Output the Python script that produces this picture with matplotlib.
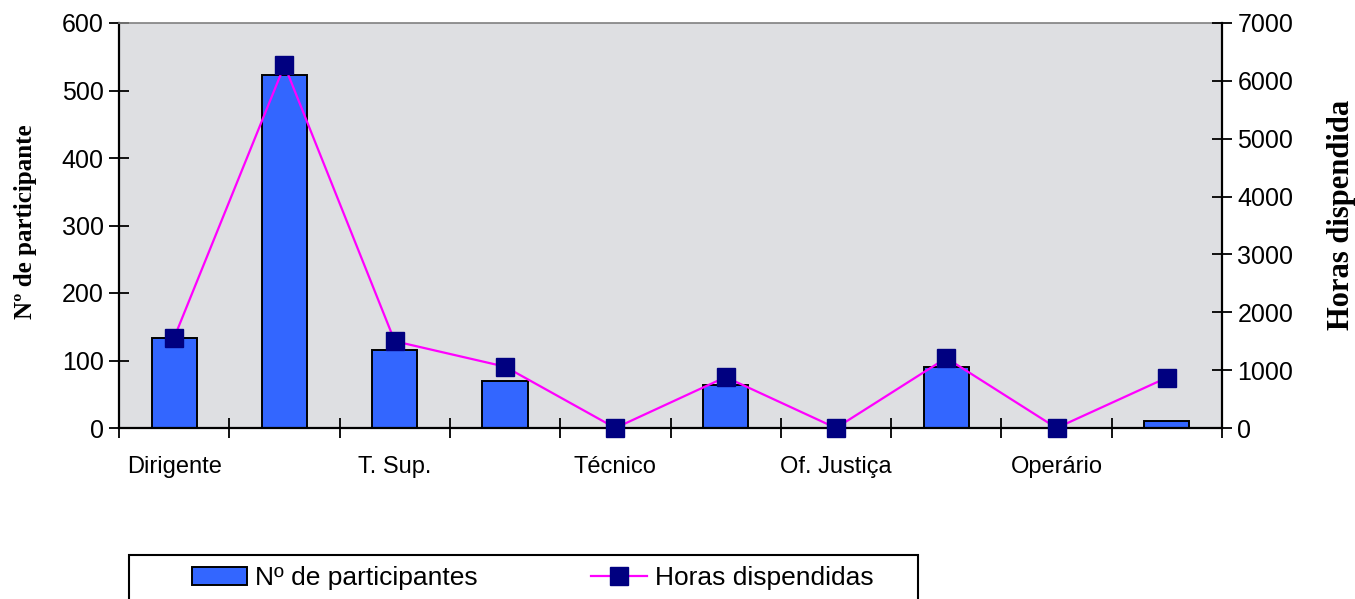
import numpy as np
import matplotlib
matplotlib.use("Agg")
import matplotlib.pyplot as plt
from matplotlib.patches import Rectangle

# =========================================================
# DATA
# =========================================================
categories = ["Dirigente", "", "T. Sup.", "", "Técnico", "",
              "Of. Justiça", "", "Operário", ""]
participantes = [133, 523, 116, 69, 0, 64, 0, 90, 0, 10]
horas = [1560, 6270, 1500, 1060, 0, 880, 0, 1210, 0, 870]

left_ticks = [0, 100, 200, 300, 400, 500, 600]
right_ticks = [0, 1000, 2000, 3000, 4000, 5000, 6000, 7000]

# =========================================================
# FIGURE
# =========================================================
plt.rcParams["font.family"] = ["Liberation Sans", "DejaVu Sans"]

fig = plt.figure(figsize=(13.55, 5.99), dpi=100)
ax = fig.add_axes([119/1355, 1 - 428/599, 1103/1355, 405/599])
ax.set_facecolor("#dedfe2")

x = np.arange(len(categories))
ax.bar(x, participantes, width=0.41, color="#3366ff", edgecolor="black",
       linewidth=1.4, zorder=2, label="Nº de participantes")

ax.set_xlim(-0.5, len(categories) - 0.5)
ax.set_ylim(0, 600)
ax.set_yticks(left_ticks)

# boundary ticks without labels, centred labels without ticks
ax.set_xticks(np.arange(-0.5, len(categories)), labels=[])
ax.set_xticks(x, labels=categories, minor=True)
ax.tick_params(axis="x", which="major", direction="inout", length=14, width=1.3)
ax.tick_params(axis="x", which="minor", length=0, pad=20, labelsize=17)
ax.tick_params(axis="y", direction="inout", length=14, width=1.3, labelsize=18, pad=4)

for s in ["left", "bottom"]:
    ax.spines[s].set_linewidth(1.6)
ax.spines["top"].set_color("#808080")
ax.spines["top"].set_linewidth(1.2)
ax.spines["right"].set_visible(False)

ax.set_ylabel("Nº de participante", family="Liberation Serif",
              fontweight="bold", fontsize=18)
ax.yaxis.set_label_coords(-0.074, 0.51)

# secondary axis
ax2 = ax.twinx()
ax2.plot(x, horas, color="#ff00ff", linewidth=1.6, marker="s",
         markersize=13, markerfacecolor="#000080", markeredgecolor="#000080",
         zorder=3, label="Horas dispendidas", clip_on=False)
ax2.set_ylim(0, 7000)
ax2.set_yticks(right_ticks)
ax2.tick_params(axis="y", direction="inout", length=14, width=1.3, labelsize=18, pad=4)
ax2.spines["right"].set_linewidth(1.6)
ax2.spines["top"].set_visible(False)
ax2.spines["left"].set_visible(False)
ax2.spines["bottom"].set_visible(False)
ax2.set_ylabel("Horas dispendida", family="Liberation Serif",
               fontweight="bold", fontsize=22, rotation=90)
ax2.yaxis.set_label_coords(1.095, 0.526)

# =========================================================
# LEGEND
# =========================================================
fig.patches.append(Rectangle((129/1355, -0.05), (918 - 129)/1355, 0.05 + 1 - 555/599,
                             transform=fig.transFigure, facecolor="white",
                             edgecolor="black", linewidth=1.5))
h1, l1 = ax.get_legend_handles_labels()
h2, l2 = ax2.get_legend_handles_labels()
fig.legend(h1 + h2, l1 + l2, loc="center left",
           bbox_to_anchor=(192/1355, 1 - 578/599), ncol=2, frameon=False,
           fontsize=19, handlelength=2.1, handletextpad=0.3,
           columnspacing=4.3, borderpad=0, borderaxespad=0)

fig.savefig("out.png", dpi=100)
